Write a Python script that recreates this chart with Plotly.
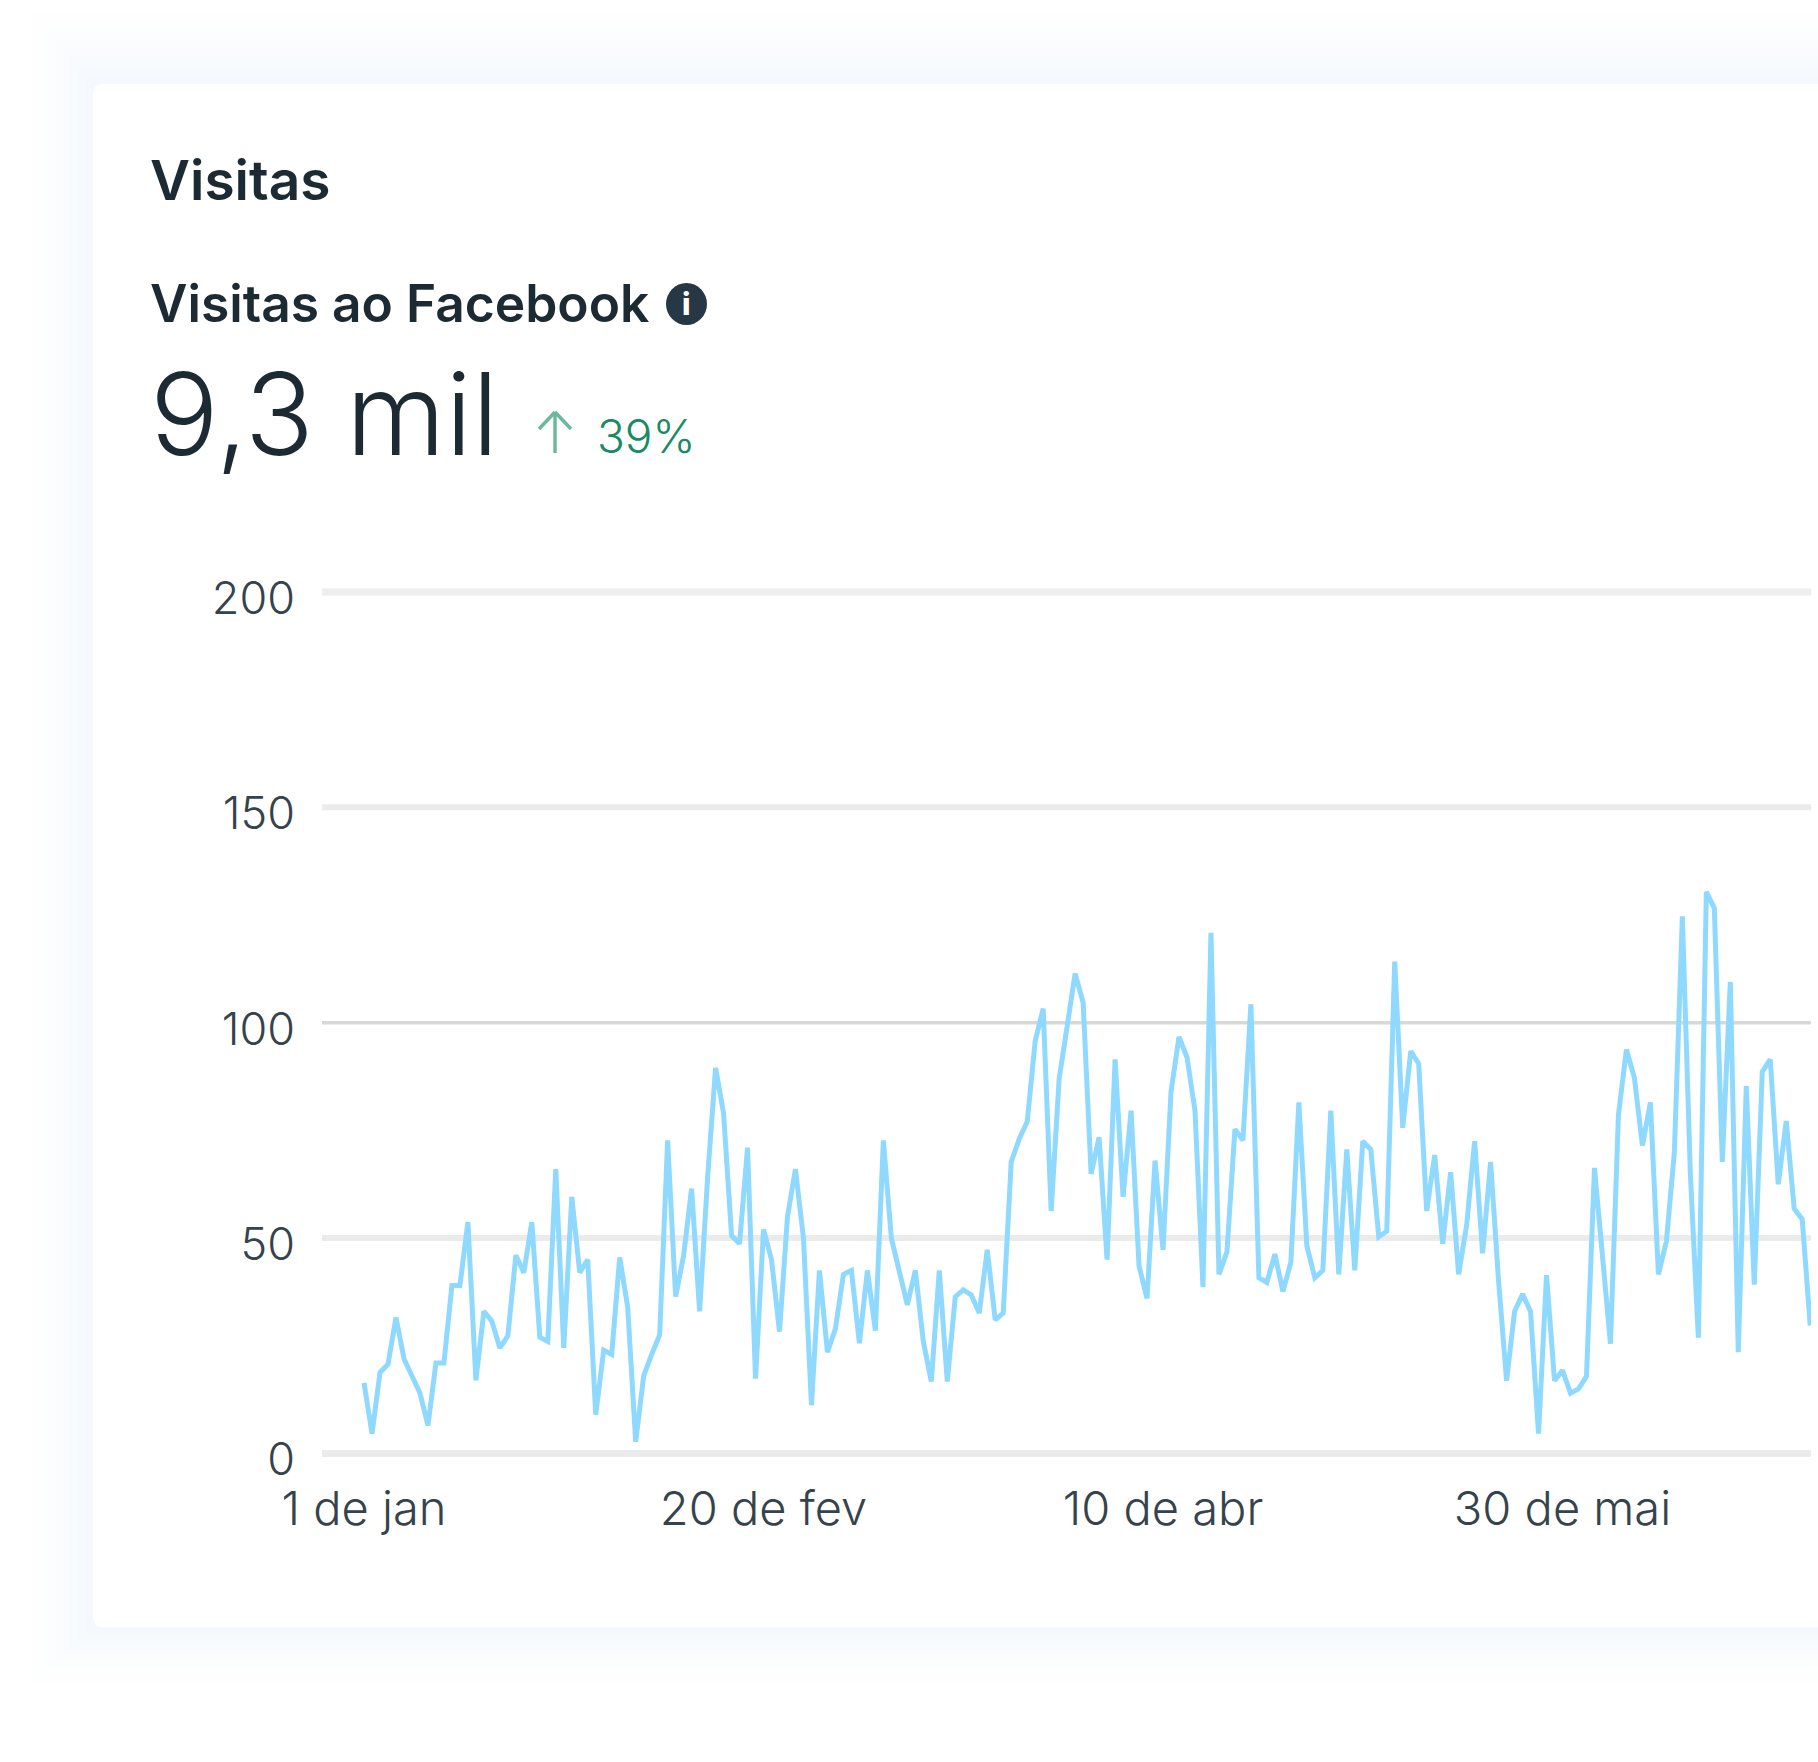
import pandas as pd
import plotly.graph_objects as go

W, H = 1818, 1762

start_date = "2024-01-01"
visits = [16.4, 4.6, 18.8, 20.7, 31.6, 22, 18, 14, 6.5, 21, 21, 39, 39, 53.7, 17, 33, 30.7, 24.5, 27.3, 46,
          42, 53.7, 27, 26, 66, 24.5, 59.6, 42, 45, 9, 24, 23, 45.5, 34, 2.7, 18, 23, 27.5, 72.7, 36.4,
          46, 61.5, 33, 64, 89.5, 79, 50.6, 48.7, 71, 17.4, 52, 45, 28.3, 55, 66, 50, 11.2, 42.5, 23.5, 29,
          41.6, 42.5, 25.6, 42.5, 28.5, 72.7, 50, 42, 34.5, 42.5, 26, 16.7, 42.5, 16.7, 36.4, 38, 36.8, 32.6, 47.3, 31,
          32.6, 67.7, 73, 77, 95.7, 103.3, 56.3, 87, 98.6, 111.4, 104.7, 64.9, 73.4, 45, 91.5, 59.6, 79.6, 43.5, 36, 68,
          47.3, 84, 96.7, 92, 79.6, 38.6, 120.9, 41.6, 46.8, 75.3, 72.7, 104.3, 40.8, 39.7, 46.3, 37.6, 44.4, 81.5, 48.2, 40.8,
          42.5, 79.6, 41.6, 70.6, 42.5, 72.5, 70.6, 50.3, 51.6, 114.2, 75.6, 93.4, 90.5, 56.3, 69.3, 48.7, 65.3, 41.6, 53, 72.5,
          46.5, 67.7, 40, 16.9, 33, 37, 33, 4.6, 41.4, 16.9, 19.3, 14, 15, 17.9, 66.3, 45.4, 25.5, 78.6, 93.8, 87.2,
          71.5, 81.5, 41.6, 49.2, 70, 124.7, 65, 26.9, 130.4, 126.6, 67.7, 109.5, 23.5, 85.3, 39.2, 88.6, 91.5, 62.5, 77.2, 56.8,
          54.4, 29.7]
dates = pd.date_range(start_date, periods=len(visits), freq="D")
x_tick_values = ["2024-01-01", "2024-02-20", "2024-04-10", "2024-05-30"]
x_tick_labels = ["1 de jan", "20 de fev", "10 de abr", "30 de mai"]
y_tick_values = [0, 50, 100, 150, 200]

TEXT = "#1c2b33"
TICK = "#35434c"
FONT = "Inter"


def px(x):
    return x / W


def py(y):
    return 1 - y / H


fig = go.Figure()
fig.add_trace(go.Scatter(x=dates, y=visits, mode="lines", cliponaxis=False,
                         line=dict(color="#8fd9ff", width=5), hoverinfo="skip"))

shapes = []
# soft halo round the card: opaque steps, palest on the outside
halo = ["#fefefe", "#fdfefe", "#fcfdfe", "#fbfcfe", "#f9fbfe", "#f8fbfd", "#f6fafd", "#f5f9fd"]
for i, color in enumerate(halo):
    t = 1 - i / len(halo)
    shapes.append(dict(type="rect", xref="paper", yref="paper", layer="below",
                       x0=px(93 - 60 * t), x1=1.02, y0=py(1627 + 55 * t), y1=py(84 - 70 * t),
                       line=dict(width=0), fillcolor=color))
# card with rounded corners
cl, ct, cb, r = px(93), py(84), py(1627), 10
rx, ry = r / W, r / H
shapes.append(dict(type="path", xref="paper", yref="paper", layer="below",
                   path=(f"M {cl + rx} {ct} L 1.02 {ct} L 1.02 {cb} L {cl + rx} {cb} "
                         f"Q {cl} {cb} {cl} {cb + ry} L {cl} {ct - ry} Q {cl} {ct} {cl + rx} {ct} Z"),
                   line=dict(width=0), fillcolor="#ffffff"))
# grid lines, each level rendered with its own weight in the reference
for level, color, width in [(200, "#eeeeee", 7), (150, "#ebebeb", 6), (100, "#d8d8d8", 3.5),
                            (50, "#ebebeb", 6), (0, "#ebebeb", 7)]:
    shapes.append(dict(type="line", xref="x domain", yref="y", layer="below",
                       x0=0, x1=1, y0=level, y1=level,
                       line=dict(color=color, width=width)))
# info icon
shapes.append(dict(type="circle", xref="paper", yref="paper", layer="above",
                   x0=px(666), x1=px(707), y0=py(325), y1=py(283),
                   line=dict(width=0), fillcolor="#263845"))
# up arrow
for a, b, c, d in [(555, 453, 555, 412), (539, 429, 555, 412), (571, 429, 555, 412)]:
    shapes.append(dict(type="line", xref="paper", yref="paper",
                       x0=px(a), y0=py(b), x1=px(c), y1=py(d),
                       line=dict(color="#6cb89d", width=3.5)))


def note(text, x, y, size, color=TEXT, weight=400, xanchor="left"):
    return dict(text=text, x=px(x), y=py(y), xref="paper", yref="paper", showarrow=False,
                xanchor=xanchor, yanchor="middle", align="left",
                font=dict(family=FONT, size=size, color=color, weight=weight))


annotations = [
    note("Visitas", 148, 180, 55, weight=600),
    note("Visitas ao Facebook", 148, 303, 51.5, weight=600),
    note("i", 686, 304, 30, color="#ffffff", weight=800, xanchor="center"),
    note("9,3 mil", 148, 414, 114, weight=300),
    note("39%", 595, 436, 46, color="#1a8a66", weight=300),
]

# y axis spans a little beyond 0-200 so that the end levels stay on the plot
y_low, y_high = -5, 205
unit = (1453.5 - 592) / 200

fig.update_layout(
    width=W, height=H, margin=dict(l=0, r=0, t=0, b=0, autoexpand=False),
    paper_bgcolor="#ffffff", plot_bgcolor="rgba(0,0,0,0)", showlegend=False,
    font=dict(family=FONT, color=TICK),
    shapes=shapes, annotations=annotations,
    xaxis=dict(domain=[px(322), px(1811)], automargin=False,
               range=[pd.Timestamp("2024-01-01") - pd.Timedelta(days=5.26),
                      pd.Timestamp("2024-01-01") + pd.Timedelta(days=181.1)],
               tickmode="array", tickvals=x_tick_values, ticktext=x_tick_labels,
               showgrid=False, zeroline=False, showline=False, ticks="",
               ticklabelstandoff=2,
               tickfont=dict(size=47, family=FONT, color=TICK, weight=300)),
    yaxis=dict(domain=[py(1453.5 - y_low * unit), py(1453.5 - y_high * unit)],
               range=[y_low, y_high], automargin=False,
               tickmode="array", tickvals=y_tick_values,
               showgrid=False, zeroline=False, showline=False, ticks="",
               ticklabelstandoff=26, ticklabelshift=6,
               tickfont=dict(size=45, family=FONT, color=TICK, weight=300)),
)

fig.write_html("out.html", config=dict(displayModeBar=False),
               post_script="document.body.style.margin='0';")
